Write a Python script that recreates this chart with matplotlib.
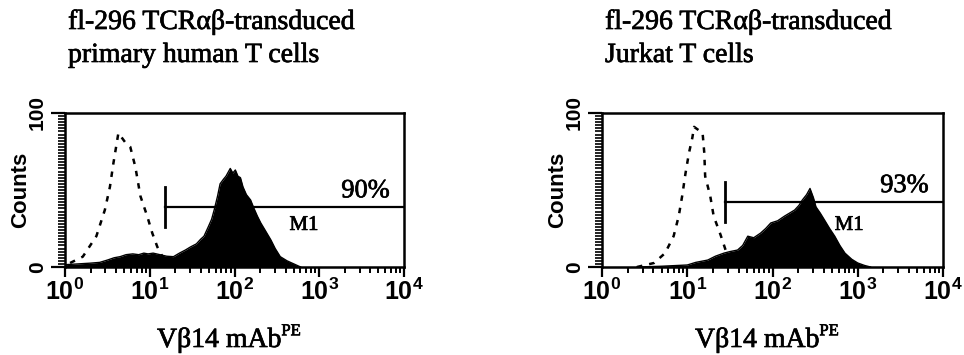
import numpy as np
import matplotlib
matplotlib.use("Agg")
from matplotlib import pyplot as plt
from matplotlib import patheffects
from matplotlib.ticker import FixedLocator, NullFormatter

plt.rcParams['mathtext.fontset'] = 'custom'
plt.rcParams['mathtext.rm'] = 'Liberation Sans:bold'
plt.rcParams['mathtext.bf'] = 'Liberation Sans:bold'
plt.rcParams['mathtext.it'] = 'Liberation Sans:bold'

SERIF = ['Liberation Serif', 'DejaVu Serif']
SANS = ['Liberation Sans', 'DejaVu Sans']
# slightly heavier strokes for the serif text
HEAVY = [patheffects.withStroke(linewidth=0.5, foreground='black')]

# ---- primary human T cells (log10 fluorescence, counts) ----
primary_title = ["fl-296 TCRαβ-transduced", "primary human T cells"]
primary_fill_log = [0.0, 0.15, 0.3, 0.41, 0.5, 0.58, 0.65, 0.72, 0.8, 0.87, 0.93, 0.98,
                    1.04, 1.12, 1.2, 1.28, 1.35, 1.42, 1.48, 1.55, 1.6, 1.64, 1.69, 1.73,
                    1.76, 1.8, 1.83, 1.87, 1.9, 1.93, 1.95, 1.98, 2.01, 2.04, 2.07, 2.1,
                    2.14, 2.19, 2.23, 2.27, 2.31, 2.36, 2.43, 2.48, 2.54, 2.62, 2.7, 2.78]
primary_fill_cnt = [1.5, 2.0, 2.5, 3.0, 4.5, 6.0, 6.7, 8.0, 8.5, 8.0, 9.0, 8.5,
                    9.0, 8.0, 7.0, 6.7, 9.0, 11.0, 13.0, 15.0, 18.0, 20.0, 26.0, 31.0,
                    37.0, 46.0, 54.0, 57.0, 59.0, 62.0, 64.0, 61.0, 63.0, 59.0, 58.0, 52.0,
                    47.0, 43.5, 38.0, 33.0, 28.6, 24.0, 17.5, 12.0, 6.7, 4.0, 2.0, 0.0]
primary_ctrl_log = [0.06, 0.21, 0.37, 0.47, 0.53, 0.57, 0.63, 0.71, 0.77, 0.83, 0.89,
                    0.97, 1.03, 1.09, 1.15, 1.2]
primary_ctrl_cnt = [2.6, 6.7, 20.0, 37.0, 52.0, 67.0, 87.0, 81.0, 78.0, 65.0, 46.0,
                    33.0, 22.0, 13.0, 6.7, 2.6]
primary_gate = (10 ** 1.18, 10 ** 4.0, 39.0)
primary_pct = "90%"

# ---- Jurkat T cells ----
jurkat_title = ["fl-296 TCRαβ-transduced", "Jurkat T cells"]
jurkat_fill_log = [0.41, 0.7, 1.0, 1.1, 1.24, 1.33, 1.43, 1.5, 1.59, 1.65, 1.71, 1.78,
                   1.86, 1.92, 1.98, 2.06, 2.14, 2.2, 2.26, 2.31, 2.35, 2.4, 2.44, 2.48,
                   2.51, 2.56, 2.61, 2.67, 2.73, 2.79, 2.85, 2.93, 3.0, 3.08, 3.15]
jurkat_fill_cnt = [0.0, 0.5, 1.3, 3.0, 4.5, 7.0, 9.0, 10.0, 11.0, 14.0, 20.0, 19.0,
                   22.0, 25.0, 28.6, 30.0, 33.0, 35.0, 37.0, 40.0, 43.5, 47.0, 51.0, 45.0,
                   39.0, 35.0, 30.5, 25.0, 20.0, 14.0, 9.0, 5.0, 2.6, 1.0, 0.0]
jurkat_ctrl_log = [0.41, 0.61, 0.74, 0.84, 0.9, 0.94, 0.98, 1.02, 1.06, 1.08, 1.18,
                   1.2, 1.21, 1.27, 1.31, 1.39, 1.45, 1.5]
jurkat_ctrl_cnt = [0.0, 2.6, 9.0, 20.0, 33.0, 46.0, 61.0, 74.0, 84.0, 91.0, 87.0,
                   74.0, 59.0, 46.0, 33.0, 21.0, 11.0, 2.6]
jurkat_gate = (10 ** 1.44, 10 ** 4.0, 42.4)
jurkat_pct = "93%"

x_ticks = [1, 10, 100, 1000, 10000]
x_tick_labels = [r'$10^{0}$', r'$10^{1}$', r'$10^{2}$', r'$10^{3}$', r'$10^{4}$']

W, H = 964, 355
fig = plt.figure(figsize=(W / 100, H / 100), dpi=100)


def px_box(x0, x1, y0, y1):
    return [x0 / W, 1 - y1 / H, (x1 - x0) / W, (y1 - y0) / H]


def draw_panel(box, title, fill_log, fill_cnt, ctrl_log, ctrl_cnt, gate, pct,
               title_x, xlabel_x, pct_x, m1_x, m1_y):
    ax = fig.add_axes(px_box(*box))
    fx = 10 ** np.array(fill_log)
    cx = 10 ** np.array(ctrl_log)
    ax.fill_between(fx, 0, fill_cnt, color='black', lw=0)
    ax.plot(fx, fill_cnt, color='black', lw=1)
    ax.plot(cx, ctrl_cnt, color='black', lw=1.8, ls=(0, (2.2, 2.8)))

    # M1 gate marker
    g0, g1, gy = gate
    ax.plot([g0, g1], [gy, gy], color='black', lw=1.6)
    ax.plot([g0, g0], [gy - 13, gy + 13], color='black', lw=2)
    ax.text(pct_x, gy + 3, pct, family=SERIF, fontsize=19, ha='right', va='bottom',
            path_effects=HEAVY)
    ax.text(m1_x, m1_y, 'M1', family=SERIF, fontsize=15, ha='center', va='center',
            path_effects=HEAVY)

    ax.set_xscale('log')
    ax.set_xlim(1, 10000)
    ax.set_ylim(0, 100)
    for s in ax.spines.values():
        s.set_linewidth(1.8)

    ax.xaxis.set_major_locator(FixedLocator(x_ticks))
    ax.set_xticklabels(x_tick_labels)
    minors = [m * d for d in [1, 10, 100, 1000] for m in range(2, 10)]
    ax.xaxis.set_minor_locator(FixedLocator(minors))
    ax.xaxis.set_minor_formatter(NullFormatter())
    ax.tick_params(axis='x', which='major', direction='out', length=7, width=1.6,
                   labelsize=18, pad=1)
    ax.tick_params(axis='x', which='minor', direction='out', length=4, width=1.4)

    ax.yaxis.set_major_locator(FixedLocator([0, 100]))
    ax.set_yticklabels(['0', '100'], rotation=90, va='center',
                       family=SANS, fontweight='bold', fontsize=15)
    ax.yaxis.set_minor_locator(FixedLocator(np.arange(2, 100, 2)))
    ax.tick_params(axis='y', which='major', direction='out', length=10, width=1.6, pad=3)
    ax.tick_params(axis='y', which='minor', direction='out', length=5, width=1.2)
    ax.set_ylabel('Counts', family=SANS, fontweight='bold', fontsize=16, labelpad=-2)

    # stacked title, two serif lines
    fig.text(title_x / W, 1 - 29 / H, title[0], family=SERIF, fontsize=20,
             va='baseline', path_effects=HEAVY)
    fig.text(title_x / W, 1 - 62 / H, title[1], family=SERIF, fontsize=20,
             va='baseline', path_effects=HEAVY)

    # x label with superscript
    lab = fig.text(xlabel_x / W, 1 - 347 / H, 'Vβ14 mAb', family=SERIF, fontsize=20,
                   va='baseline', ha='left', path_effects=HEAVY)
    ax.annotate('PE', xy=(1, 0.55), xycoords=lab, family=SERIF, fontsize=12,
                va='bottom', ha='left', annotation_clip=False, path_effects=HEAVY)
    return ax


draw_panel((65, 404, 113, 267), primary_title, primary_fill_log, primary_fill_cnt,
           primary_ctrl_log, primary_ctrl_cnt, primary_gate, primary_pct,
           title_x=68, xlabel_x=157, pct_x=10 ** 3.83, m1_x=10 ** 2.82, m1_y=27)
draw_panel((602, 943, 113, 267), jurkat_title, jurkat_fill_log, jurkat_fill_cnt,
           jurkat_ctrl_log, jurkat_ctrl_cnt, jurkat_gate, jurkat_pct,
           title_x=605, xlabel_x=695, pct_x=10 ** 3.83, m1_x=10 ** 2.9, m1_y=27)

fig.savefig('out.png', dpi=100)
